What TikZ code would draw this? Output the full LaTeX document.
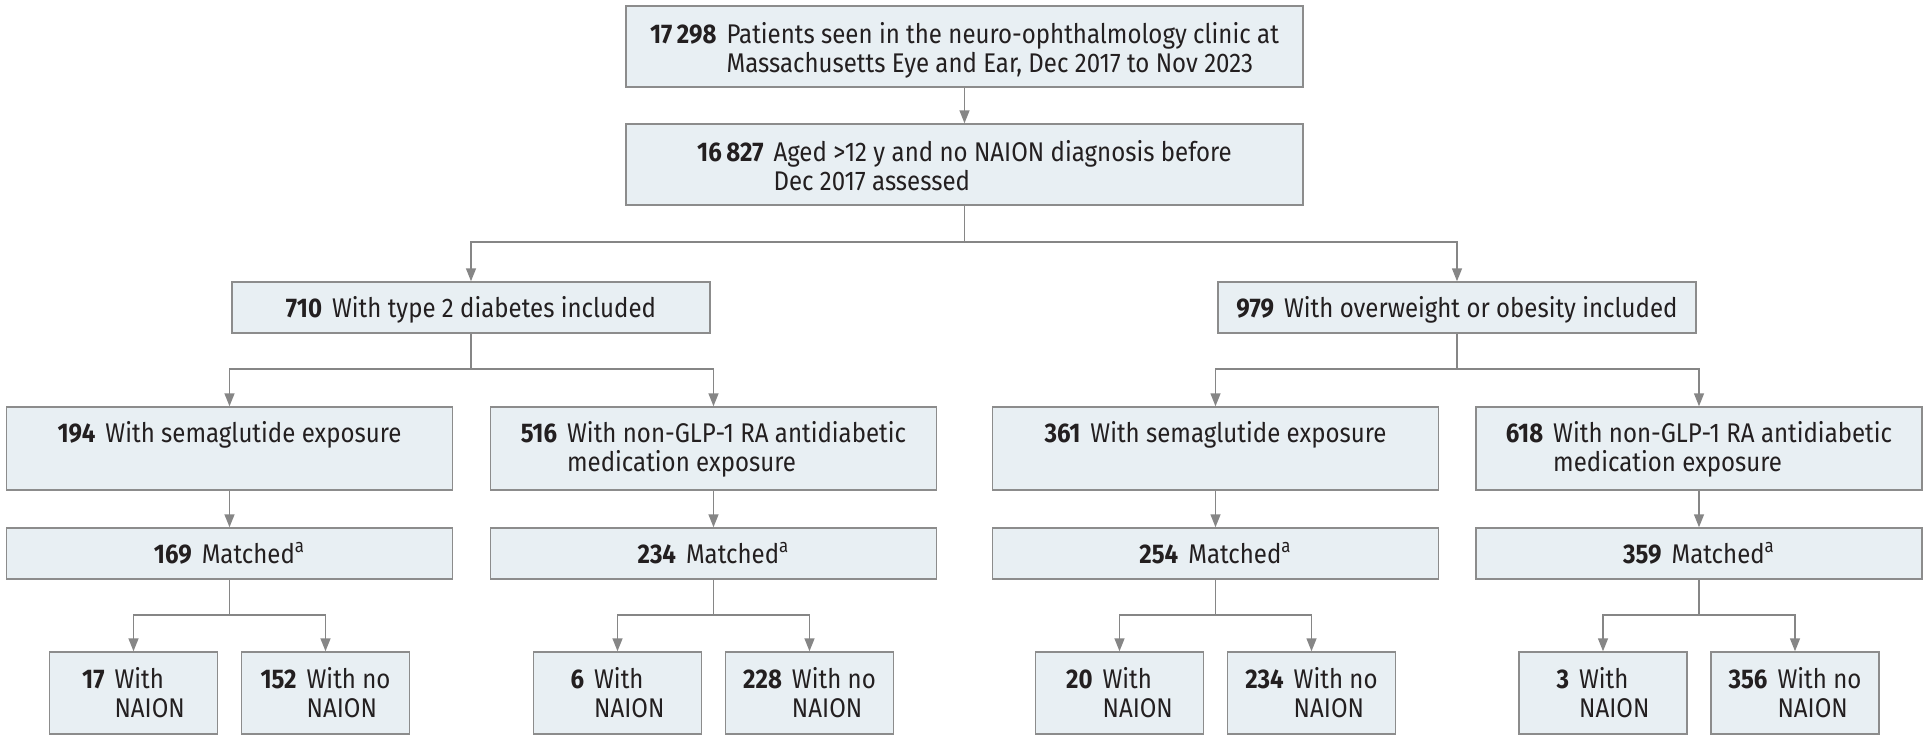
\documentclass[tikz,border=0pt]{standalone}
\usepackage{fontspec}
\setmainfont{Fira Sans}[FakeStretch=0.89]
\usetikzlibrary{arrows.meta}
\definecolor{boxfill}{HTML}{E8EFF3}
\definecolor{boxline}{HTML}{8C8C8C}
\definecolor{conncol}{HTML}{868686}
\definecolor{txt}{HTML}{231F20}
\newcommand{\twoline}[3]{\begin{tabular}[t]{@{}l@{\hspace{5pt}}l@{}}\textbf{#1} & #2\\ & #3\end{tabular}}
\newcommand{\oneline}[2]{\begin{tabular}[t]{@{}l@{\hspace{5pt}}l@{}}\textbf{#1} & #2\end{tabular}}
\tikzset{
  box/.style={draw=boxline, fill=boxfill, line width=0.75pt, inner sep=0pt, text=txt,
    font=\fontsize{13.5}{14.5}\selectfont, text height=17.5pt},
  wide/.style={box, minimum width=338.5pt, minimum height=40.5pt, text height=18.5pt, text depth=22pt},
  mid/.style={box, minimum width=239pt, minimum height=25.5pt, text depth=8pt},
  col/.style={box, minimum width=223pt, minimum height=41.5pt, text depth=24pt},
  match/.style={box, minimum width=223pt, minimum height=25.5pt, text depth=8pt},
  leaf/.style={box, minimum width=84pt, minimum height=41pt, text height=18pt, text depth=23pt},
  link/.style={draw=conncol, line width=0.75pt},
  arr/.style={link, -{Triangle[length=6.5pt,width=5pt]}}
}
\begin{document}
\begin{tikzpicture}[x=0.5pt,y=-0.5pt]
\useasboundingbox (0,0) rectangle (1928,740);
\fill[white] (0,0) rectangle (1928,740);

\node[wide] (top) at (964.5,46.5) {\twoline{17\,298}{Patients seen in the neuro-ophthalmology clinic at}{Massachusetts Eye and Ear, Dec 2017 to Nov 2023}};
\node[wide] (aged) at (964.5,164.5) {\twoline{16\,827}{Aged >12 y and no NAION diagnosis before}{Dec 2017 assessed}};

\node[mid] (dm) at (471,307.5) {\oneline{710}{With type 2 diabetes included}};
\node[mid] (ob) at (1457,307.5) {\oneline{979}{With overweight or obesity included}};

\node[col] (c1) at (229.5,448.5) {\oneline{194}{With semaglutide exposure}};
\node[col] (c2) at (713.5,448.5) {\twoline{516}{With non-GLP-1 RA antidiabetic}{medication exposure}};
\node[col] (c3) at (1215.5,448.5) {\oneline{361}{With semaglutide exposure}};
\node[col] (c4) at (1699,448.5) {\twoline{618}{With non-GLP-1 RA antidiabetic}{medication exposure}};

\node[match] (m1) at (229.5,553.5) {\oneline{169}{Matched\textsuperscript{a}}};
\node[match] (m2) at (713.5,553.5) {\oneline{234}{Matched\textsuperscript{a}}};
\node[match] (m3) at (1215.5,553.5) {\oneline{254}{Matched\textsuperscript{a}}};
\node[match] (m4) at (1699,553.5) {\oneline{359}{Matched\textsuperscript{a}}};

\node[leaf] (l1) at (133.5,693) {\twoline{17}{With}{NAION}};
\node[leaf] (l2) at (325.5,693) {\twoline{152}{With no}{NAION}};
\node[leaf] (l3) at (617.5,693) {\twoline{6}{With}{NAION}};
\node[leaf] (l4) at (809.5,693) {\twoline{228}{With no}{NAION}};
\node[leaf] (l5) at (1119.5,693) {\twoline{20}{With}{NAION}};
\node[leaf] (l6) at (1311.5,693) {\twoline{234}{With no}{NAION}};
\node[leaf] (l7) at (1603,693) {\twoline{3}{With}{NAION}};
\node[leaf] (l8) at (1795,693) {\twoline{356}{With no}{NAION}};

\coordinate (b0) at (964.5,242);
\coordinate (bd) at (471,369);
\coordinate (bo) at (1457,369);
\coordinate (bm1) at (229.5,615);
\coordinate (bm2) at (713.5,615);
\coordinate (bm3) at (1215.5,615);
\coordinate (bm4) at (1699,615);

\draw[arr] (top) -- (aged);
\draw[link] (aged) -- (b0);
\draw[arr] (b0) -| (dm.north);
\draw[arr] (b0) -| (ob.north);

\draw[link] (dm) -- (bd);
\draw[arr] (bd) -| (c1.north);
\draw[arr] (bd) -| (c2.north);
\draw[link] (ob) -- (bo);
\draw[arr] (bo) -| (c3.north);
\draw[arr] (bo) -| (c4.north);

\draw[arr] (c1) -- (m1);
\draw[arr] (c2) -- (m2);
\draw[arr] (c3) -- (m3);
\draw[arr] (c4) -- (m4);

\draw[link] (m1) -- (bm1);
\draw[arr] (bm1) -| (l1.north);
\draw[arr] (bm1) -| (l2.north);
\draw[link] (m2) -- (bm2);
\draw[arr] (bm2) -| (l3.north);
\draw[arr] (bm2) -| (l4.north);
\draw[link] (m3) -- (bm3);
\draw[arr] (bm3) -| (l5.north);
\draw[arr] (bm3) -| (l6.north);
\draw[link] (m4) -- (bm4);
\draw[arr] (bm4) -| (l7.north);
\draw[arr] (bm4) -| (l8.north);
\end{tikzpicture}
\end{document}
